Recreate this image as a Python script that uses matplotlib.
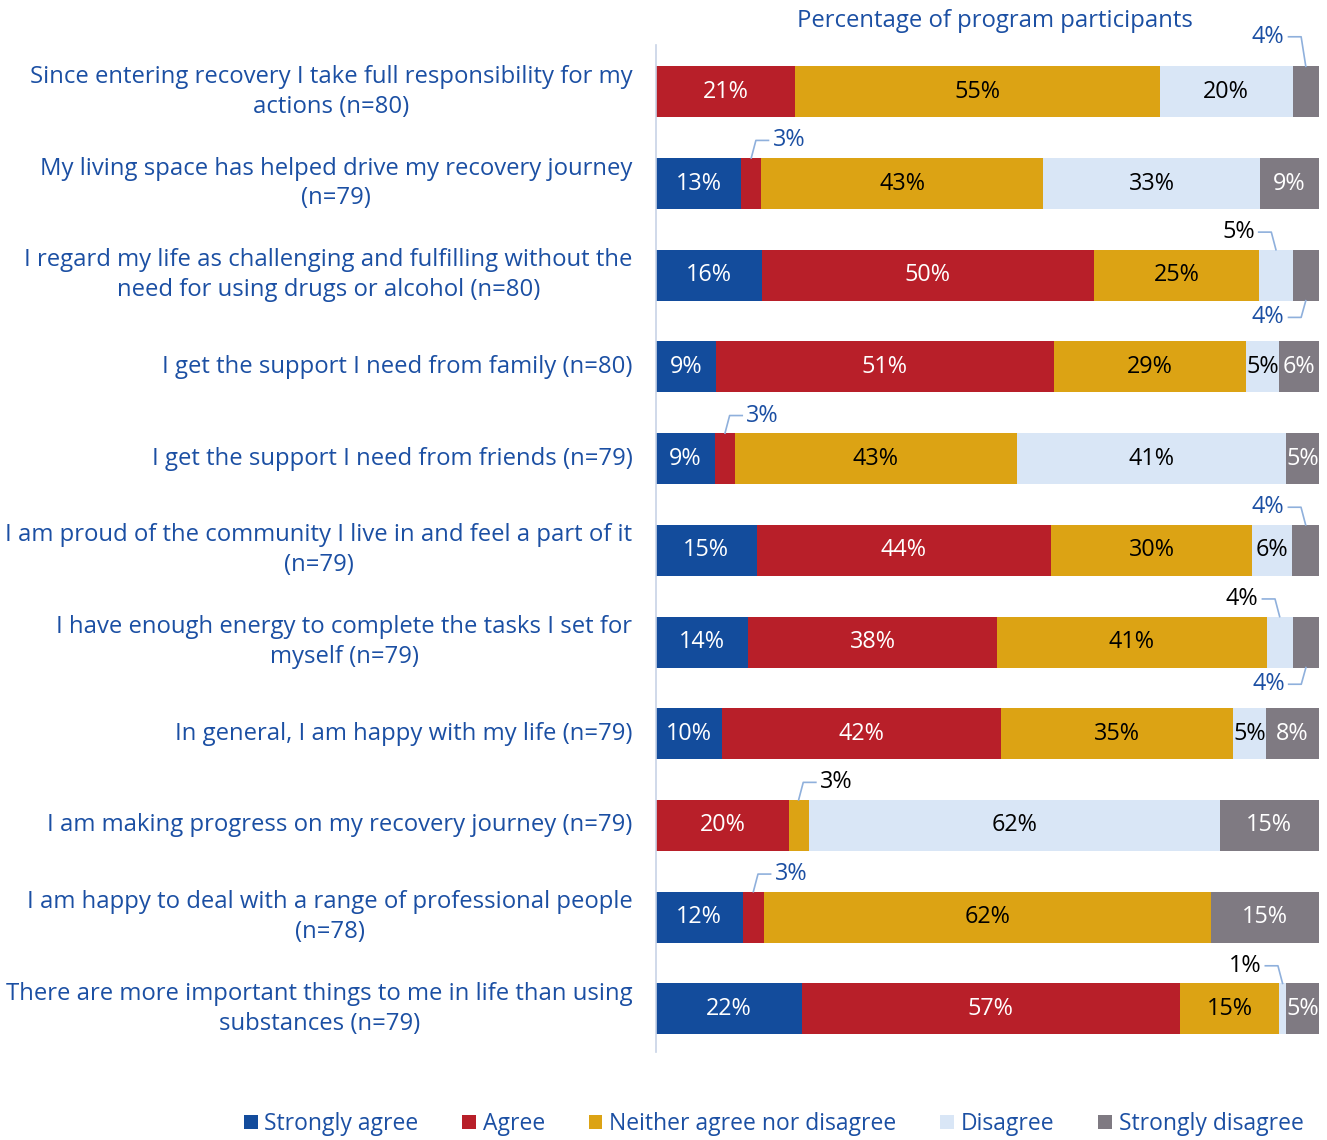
import numpy as np
import matplotlib
matplotlib.use('Agg')
import matplotlib.pyplot as plt
from matplotlib.patches import Patch

plt.rcParams['font.family'] = ['Open Sans', 'DejaVu Sans']

questions = [
    'Since entering recovery I take full responsibility for my\nactions (n=80)',
    'My living space has helped drive my recovery journey\n(n=79)',
    'I regard my life as challenging and fulfilling without the\nneed for using drugs or alcohol (n=80)',
    'I get the support I need from family (n=80)',
    'I get the support I need from friends (n=79)',
    'I am proud of the community I live in and feel a part of it\n(n=79)',
    'I have enough energy to complete the tasks I set for\nmyself (n=79)',
    'In general, I am happy with my life (n=79)',
    'I am making progress on my recovery journey (n=79)',
    'I am happy to deal with a range of professional people\n(n=78)',
    'There are more important things to me in life than using\nsubstances (n=79)',
]
categories = ['Strongly agree', 'Agree', 'Neither agree nor disagree',
              'Disagree', 'Strongly disagree']
strongly_agree = [0, 13, 16, 9, 9, 15, 14, 10, 0, 12, 22]
agree = [21, 3, 50, 51, 3, 44, 38, 42, 20, 3, 57]
neither = [55, 43, 25, 29, 43, 30, 41, 35, 3, 62, 15]
disagree = [20, 33, 5, 5, 41, 6, 4, 5, 62, 0, 1]
strongly_disagree = [4, 9, 4, 6, 5, 4, 4, 8, 15, 15, 5]

colors = ['#134c9c', '#b81f29', '#dca314', '#d9e6f6', '#7f7a82']
text_colors = ['white', 'white', 'black', 'black', 'white']
blue = '#1b4fa3'
leader = '#8fb0dc'
fs = 17.2
bar_fs = 16.8

# small segments labelled outside the bar: (row, segment, side, direction, text y offset)
callouts = [
    (0, 4, 'above', 'left', 0.60),
    (1, 1, 'above', 'right', 0.47),
    (2, 3, 'above', 'left', 0.47),
    (2, 4, 'below', 'left', 0.46),
    (4, 1, 'above', 'right', 0.47),
    (5, 4, 'above', 'left', 0.47),
    (6, 3, 'above', 'left', 0.47),
    (6, 4, 'below', 'left', 0.46),
    (8, 2, 'above', 'right', 0.47),
    (9, 1, 'above', 'right', 0.47),
    (10, 3, 'above', 'left', 0.47),
]
outside = {(r, s) for r, s, *_ in callouts}

raw = np.array([strongly_agree, agree, neither, disagree, strongly_disagree], dtype=float).T
shares = raw / raw.sum(axis=1, keepdims=True) * 100
lefts = np.cumsum(shares, axis=1) - shares
y = np.arange(len(questions))
bar_h = 0.556

fig = plt.figure(figsize=(13.27, 11.4), dpi=100)
ax = fig.add_axes([0.4944, 0.0772, 0.4996, 0.8833])

for j, cat in enumerate(categories):
    ax.barh(y, shares[:, j], left=lefts[:, j], height=bar_h,
            color=colors[j], linewidth=0, label=cat)
    for i in y:
        v = raw[i, j]
        if v > 0 and (i, j) not in outside:
            ax.text(lefts[i, j] + shares[i, j] / 2, i, f'{int(v)}%',
                    ha='center', va='center', fontsize=bar_fs, color=text_colors[j])

for row, seg, side, direction, off in callouts:
    xc = lefts[row, seg] + shares[row, seg] / 2
    if side == 'above':
        edge, ty = row - bar_h / 2, row - off
    else:
        edge, ty = row + bar_h / 2, row + off
    s = 1 if direction == 'right' else -1
    ax.plot([xc, xc + s * 0.7, xc + s * 2.6], [edge, ty, ty],
            color=leader, lw=1.2, clip_on=False)
    tcol = 'black' if text_colors[seg] == 'black' else blue
    ax.text(xc + s * 3.2, ty, f'{int(raw[row, seg])}%',
            ha='left' if s > 0 else 'right', va='center',
            fontsize=bar_fs, color=tcol, clip_on=False)

ax.set_xlim(0, 100)
ax.set_ylim(len(questions) - 0.53, -0.51)
ax.set_yticks(y)
ax.set_yticklabels(questions, fontsize=fs, color=blue, multialignment='center')
for lbl in ax.get_yticklabels():
    lbl.set_linespacing(1.33)
    lbl.set_va('center')
ax.tick_params(axis='y', length=0, pad=17)
ax.set_xticks([])
for sp in ['top', 'right', 'bottom']:
    ax.spines[sp].set_visible(False)
ax.spines['left'].set_color('#c8d3e6')
ax.spines['left'].set_linewidth(1.2)

fig.text(0.75, 0.982, 'Percentage of program participants',
         ha='center', va='center', fontsize=fs, color=blue)

handles = [Patch(facecolor=c, edgecolor='none') for c in colors]
leg = fig.legend(handles, categories, loc='center', bbox_to_anchor=(0.583, 0.014),
                 ncol=5, frameon=False, fontsize=16.5, handlelength=0.6,
                 handleheight=0.6, handletextpad=0.3, columnspacing=1.9)
for t in leg.get_texts():
    t.set_color(blue)

fig.savefig('out.png', dpi=100)
